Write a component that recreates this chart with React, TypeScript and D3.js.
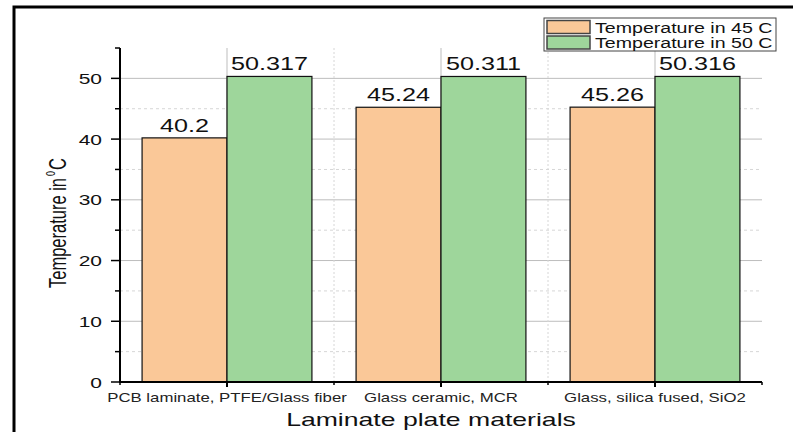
import React from "react";
import * as d3 from "d3";

const categories = ["PCB laminate, PTFE/Glass fiber", "Glass ceramic, MCR", "Glass, silica fused, SiO2"];
const seriesNames = ["Temperature in 45 C", "Temperature in 50 C"];
const temp45 = [40.2, 45.24, 45.26];
const temp50 = [50.317, 50.311, 50.316];
const valueLabels45 = ["40.2", "45.24", "45.26"];
const valueLabels50 = ["50.317", "50.311", "50.316"];
const yMajorTicks = [0, 10, 20, 30, 40, 50];
const yMinorTicks = [5, 15, 25, 35, 45, 55];

const W = 793;
const H = 432;
const FONT = "'Liberation Sans', Arial, sans-serif";
const SX = 1.4;
const colors = ["#FAC898", "#9ED69B"];

export default function App() {
  const left = 120, right = 762, top = 48, bottom = 382;
  const x = d3.scaleBand<string>().domain(categories).range([left, right]).paddingInner(0).paddingOuter(0);
  const xi = d3.scaleBand<string>().domain(seriesNames).range([0, x.bandwidth()]).paddingInner(0).paddingOuter(0.26);
  const y = d3.scaleLinear().domain([0, 55]).range([bottom, top]);
  const seriesValues = [temp45, temp50];
  const seriesLabels = [valueLabels45, valueLabels50];
  const boundaries = categories.map((c) => x(c)!).concat([right]);

  return (
    <svg width={W} height={H} style={{ position: "absolute", left: 0, top: 0, background: "#fff" }} fontFamily={FONT}>
      <rect x={0} y={0} width={W} height={H} fill="#fff" />
      <rect x={14} y={7} width={W + 20} height={H + 20} fill="none" stroke="#000" strokeWidth={3} />

      {/* horizontal grid */}
      {yMinorTicks.filter((t) => t < 55).map((t) => (
        <line key={"hm" + t} x1={left} x2={right} y1={y(t)} y2={y(t)} stroke="#d6d6d6" strokeWidth={1} strokeDasharray="3,3" />
      ))}
      {yMajorTicks.filter((t) => t > 0).map((t) => (
        <line key={"hM" + t} x1={left} x2={right} y1={y(t)} y2={y(t)} stroke="#bdbdbd" strokeWidth={1} />
      ))}
      {/* vertical grid */}
      {boundaries.slice(1, -1).map((b, i) => (
        <line key={"vm" + i} x1={b} x2={b} y1={top} y2={bottom} stroke="#d6d6d6" strokeWidth={1} strokeDasharray="2,2" />
      ))}
      {categories.map((c) => (
        <line key={"vM" + c} x1={x(c)! + x.bandwidth() / 2} x2={x(c)! + x.bandwidth() / 2} y1={top} y2={bottom} stroke="#bdbdbd" strokeWidth={1} />
      ))}

      {/* bars */}
      {seriesNames.map((s, si) =>
        categories.map((c, ci) => {
          const bx = x(c)! + xi(s)!;
          const v = seriesValues[si][ci];
          return (
            <rect key={s + c} x={bx} y={y(v)} width={xi.bandwidth()} height={y(0) - y(v)} fill={colors[si]} stroke="#111" strokeWidth={1.2} />
          );
        })
      )}
      {/* value labels */}
      {seriesNames.map((s, si) =>
        categories.map((c, ci) => {
          const cx = x(c)! + xi(s)! + xi.bandwidth() / 2;
          const v = seriesValues[si][ci];
          return (
            <g key={"l" + s + c} transform={`translate(${cx},${y(v) - 6}) scale(${SX},1)`}>
              <text textAnchor="middle" fontSize={18} fill="#111">{seriesLabels[si][ci]}</text>
            </g>
          );
        })
      )}

      {/* y axis */}
      <line x1={left} x2={left} y1={top} y2={bottom + 1} stroke="#000" strokeWidth={2} />
      {yMajorTicks.map((t) => (
        <g key={"yt" + t}>
          <line x1={left - 9} x2={left} y1={y(t)} y2={y(t)} stroke="#000" strokeWidth={1.5} />
          <g transform={`translate(${left - 18},${y(t) + 5.5}) scale(${SX},1)`}>
            <text textAnchor="end" fontSize={15} fill="#111">{t}</text>
          </g>
        </g>
      ))}
      {yMinorTicks.map((t) => (
        <line key={"ymt" + t} x1={left - 5} x2={left} y1={y(t)} y2={y(t)} stroke="#000" strokeWidth={1.5} />
      ))}

      {/* x axis */}
      <line x1={left - 1} x2={right} y1={bottom} y2={bottom} stroke="#000" strokeWidth={2} />
      {categories.map((c) => (
        <g key={"xt" + c}>
          <line x1={x(c)! + x.bandwidth() / 2} x2={x(c)! + x.bandwidth() / 2} y1={bottom} y2={bottom + 5} stroke="#000" strokeWidth={2} />
          <g transform={`translate(${x(c)! + x.bandwidth() / 2},402) scale(${SX},1)`}>
            <text textAnchor="middle" fontSize={12} fill="#222">{c}</text>
          </g>
        </g>
      ))}
      {boundaries.map((b, i) => (
        <line key={"xmt" + i} x1={b} x2={b} y1={bottom} y2={bottom + 3} stroke="#000" strokeWidth={1.5} />
      ))}

      {/* axis titles */}
      <g transform={`translate(${(left + right) / 2 - 10},426) scale(${SX},1)`}>
        <text textAnchor="middle" fontSize={19} fill="#111">Laminate plate materials</text>
      </g>
      <g transform={`translate(66,288) rotate(-90) scale(1,${SX})`}>
        <text x={0} y={0} fontSize={16.5} fill="#111">Temperature in </text>
        <text x={112} y={-8} fontSize={9} fill="#111">0</text>
        <text x={118} y={0} fontSize={16.5} fill="#111">C</text>
      </g>

      {/* legend */}
      <rect x={544} y={18} width={232} height={33} fill="#fff" stroke="#444" strokeWidth={1} />
      {seriesNames.map((s, i) => (
        <g key={"lg" + s}>
          <rect x={547} y={20.5 + i * 15.5} width={43} height={13} fill={colors[i]} stroke="#444" strokeWidth={1.5} />
          <g transform={`translate(595,${32.5 + i * 15}) scale(${SX},1)`}>
            <text fontSize={14} fill="#111">{s}</text>
          </g>
        </g>
      ))}
    </svg>
  );
}
